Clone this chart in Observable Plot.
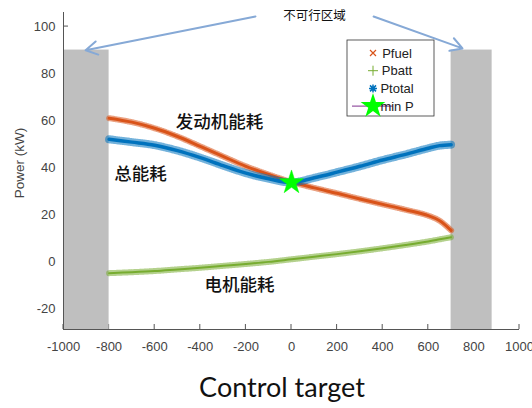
<!DOCTYPE html>
<html>
<head>
<meta charset="utf-8">
<script src="https://cdn.jsdelivr.net/npm/d3@7"></script>
<script src="https://cdn.jsdelivr.net/npm/@observablehq/plot@0.6"></script>
<style>
  body { margin: 0; background: #fff; }
  #wrap { position: relative; width: 532px; height: 408px; overflow: hidden; }
  #caption { position: absolute; left: 0; top: 370px; width: 564px; text-align: center;
             font-family: Lato, "Liberation Sans", sans-serif; font-size: 27px; color: #111; }
</style>
</head>
<body>
<div id="wrap">
  <div id="chart"></div>
  <div id="caption">Control target</div>
</div>
<script>
// Operating point sweep (x) and the three power curves, kW
const xs     = [-800, -700, -600, -500, -400, -300, -200, -100, 0, 100, 200, 300, 400, 500, 600, 650, 700];
const pFuel  = [61, 59.3, 56.7, 53.2, 49, 44.7, 40.5, 37, 33.8, 31.3, 29, 26.6, 24.3, 22, 19.5, 17.3, 13.2];
const pBatt  = [-5, -4.6, -4.1, -3.4, -2.7, -1.9, -1.1, -0.2, 0.9, 2, 3.1, 4.3, 5.6, 7, 8.5, 9.4, 10.3];
const pTotal = [52, 50.8, 49.5, 47.2, 44.2, 40.8, 37.6, 35.2, 33.6, 35.6, 38, 40.5, 43.2, 45.6, 48.2, 49.3, 49.7];

// Infeasible regions [x1, x2, top]
const infeasibleX1 = [-1000, 700];
const infeasibleX2 = [-800, 880];
const infeasibleTop = [90, 90];

// Axis ticks
const xTicks = [-1000, -800, -600, -400, -200, 0, 200, 400, 600, 800, 1000];
const yTicks = [-20, 0, 20, 40, 60, 80, 100];
const xDomain = [-1000, 1000];
const yDomain = [-29, 106];

// Text annotations
const noteText = ["发动机能耗", "总能耗", "电机能耗"];
const noteX = [-316, -662, -228];
const noteY = [59.2, 37, -10.2];
const regionLabel = {text: "不可行区域", x: 101, y: 104.3};
const arrowX1 = [-158, 360];
const arrowY1 = [104.3, 104.3];
const arrowX2 = [-903, 750];
const arrowY2 = [89.9, 90.7];

const colors = {fuel: "#D95319", batt: "#77AC30", total: "#0072BD", star: "#00FF00", minLine: "#7E2F8E"};

const series = (vals) => xs.map((x, i) => ({x, y: vals[i]}));
const fuel = series(pFuel), batt = series(pBatt), total = series(pTotal);
const minP = d3.least(total, d => d.y);

const regions = infeasibleX1.map((x1, i) => ({x1, x2: infeasibleX2[i], y1: yDomain[0], y2: infeasibleTop[i]}));
const notes = noteText.map((text, i) => ({text, x: noteX[i], y: noteY[i]}));
const arrows = arrowX1.map((x1, i) => ({x1, y1: arrowY1[i], x2: arrowX2[i], y2: arrowY2[i]}));

// A dense-marker band: a hatched wide stroke over a solid core
function band(data, color, wide, core) {
  return [
    Plot.line(data, {x: "x", y: "y", stroke: color, strokeWidth: wide, strokeOpacity: 0.55,
                     strokeDasharray: "1 1.3", curve: "catmull-rom"}),
    Plot.line(data, {x: "x", y: "y", stroke: color, strokeWidth: core, curve: "catmull-rom"})
  ];
}

const chart = Plot.plot({
  width: 532,
  height: 362,
  marginLeft: 63,
  marginRight: 13,
  marginTop: 12,
  marginBottom: 33,
  style: {fontFamily: "'Liberation Sans', Arial, sans-serif", fontSize: "13px", color: "#444", background: "#fff"},
  x: {domain: xDomain},
  y: {domain: yDomain},
  marks: [
    Plot.axisX({ticks: xTicks, tickSize: 0, tickPadding: 12, tickFormat: d => String(d), label: null}),
    Plot.axisY({ticks: yTicks, tickSize: 0, tickPadding: 8, tickFormat: d => String(d), label: null}),
    Plot.rect(regions, {x1: "x1", x2: "x2", y1: "y1", y2: "y2", fill: "#bfbfbf"}),
    Plot.ruleY([yDomain[0]], {stroke: "#555", strokeWidth: 1}),
    Plot.ruleX([xDomain[0]], {stroke: "#555", strokeWidth: 1}),
    ...band(batt, colors.batt, 6, 2),
    ...band(fuel, colors.fuel, 6, 3),
    ...band(total, colors.total, 8, 3.5),
    Plot.dot([minP], {x: "x", y: "y", symbol: "star", r: 7.5, fill: colors.star, stroke: colors.star, strokeWidth: 0.5}),
    Plot.arrow(arrows, {x1: "x1", y1: "y1", x2: "x2", y2: "y2", stroke: "#86a9d6", strokeWidth: 2, headLength: 10, bend: 0}),
    Plot.text([regionLabel], {x: "x", y: "y", text: "text", fill: "#111", fontSize: 12.5,
                              fontFamily: "'Noto Sans CJK SC', sans-serif"}),
    Plot.text(notes, {x: "x", y: "y", text: "text", fill: "#111", fontSize: 17.5,
                      fontFamily: "'Noto Sans CJK SC', sans-serif", fontWeight: 500})
  ]
});

document.getElementById("chart").appendChild(chart);

// Inward-facing tick marks, placed beneath the shaded regions
const svg = d3.select(chart);
const sx = chart.scale("x"), sy = chart.scale("y");
const yBottom = sy.apply(yDomain[0]), xLeft = sx.apply(xDomain[0]);
const tickG = svg.insert("g", "g").attr("stroke", "#555").attr("stroke-width", 1);
xTicks.forEach(v => {
  const px = sx.apply(v);
  tickG.append("line").attr("x1", px).attr("x2", px).attr("y1", yBottom).attr("y2", yBottom - 5);
});
yTicks.forEach(v => {
  const py = sy.apply(v);
  tickG.append("line").attr("x1", xLeft).attr("x2", xLeft + 5).attr("y1", py).attr("y2", py);
});

// Y axis title
svg.append("text")
  .attr("transform", "translate(20,163) rotate(-90)")
  .attr("text-anchor", "middle")
  .attr("dominant-baseline", "middle")
  .attr("fill", "#444")
  .attr("font-size", 13.5)
  .text("Power (kW)");

// Legend
const lg = svg.append("g").attr("transform", "translate(347,40)");
lg.append("rect").attr("width", 87).attr("height", 76).attr("fill", "#fff")
  .attr("stroke", "#333").attr("stroke-width", 0.8);
const items = [
  {label: "Pfuel", symbol: d3.symbolTimes, color: colors.fuel},
  {label: "Pbatt", symbol: d3.symbolCross, color: colors.batt},
  {label: "Ptotal", symbol: d3.symbolAsterisk, color: colors.total},
  {label: "min P", symbol: d3.symbolStar, color: colors.star}
];
items.forEach((it, i) => {
  const y = 13 + i * 17.7;
  const g = lg.append("g").attr("transform", `translate(0,${y})`);
  if (it.label === "min P") {
    g.append("line").attr("x1", 5).attr("x2", 46).attr("stroke", colors.minLine).attr("stroke-width", 1);
    g.append("path").attr("transform", "translate(26,0)")
      .attr("d", d3.symbol(d3.symbolStar, 190)()).attr("fill", colors.star);
  } else if (it.label === "Pbatt") {
    g.append("path").attr("transform", "translate(26,0)")
      .attr("d", "M-5,0H5M0,-5V5").attr("stroke", it.color).attr("stroke-width", 1).attr("fill", "none");
  } else if (it.label === "Pfuel") {
    g.append("path").attr("transform", "translate(26,0)")
      .attr("d", "M-3,-3L3,3M-3,3L3,-3").attr("stroke", it.color).attr("stroke-width", 1.2).attr("fill", "none");
  } else {
    g.append("path").attr("transform", "translate(26,0)")
      .attr("d", "M-4,0H4M0,-4V4M-3,-3L3,3M-3,3L3,-3").attr("stroke", it.color).attr("stroke-width", 1.5).attr("fill", "none");
  }
  g.append("text").attr("x", 50).attr("dy", "0.35em").attr("font-size", 13)
    .attr("fill", "#222").text(it.label);
});
</script>
</body>
</html>
